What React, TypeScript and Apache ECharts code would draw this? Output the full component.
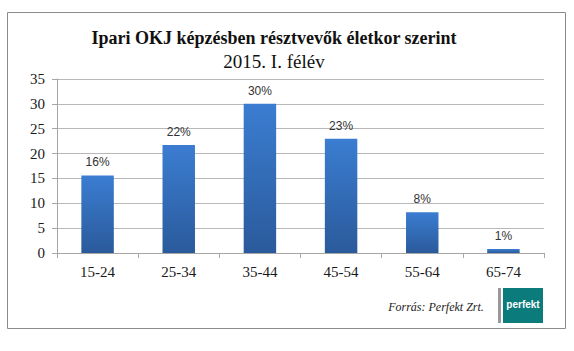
import React, { useEffect, useRef } from "react";
import * as echarts from "echarts";

const categories = ["15-24", "25-34", "35-44", "45-54", "55-64", "65-74"];
const values = [15.6, 21.7, 30, 23, 8.2, 0.8];
const percentLabels = ["16%", "22%", "30%", "23%", "8%", "1%"];
const yTicks = { min: 0, max: 35, interval: 5 };
const titleLine1 = "Ipari OKJ képzésben résztvevők életkor szerint";
const titleLine2 = "2015. I. félév";
const sourceText = "Forrás: Perfekt Zrt.";
const logoText = "perfekt";

export default function App() {
  const ref = useRef<HTMLDivElement>(null);
  useEffect(() => {
    if (!ref.current) return;
    const chart = echarts.init(ref.current, undefined, { renderer: "svg" });
    const serif = "'Liberation Serif', 'DejaVu Serif', serif";
    chart.setOption({
      animation: false,
      backgroundColor: "#ffffff",
      grid: { left: 57, right: 30, top: 79, bottom: 98 },
      xAxis: {
        type: "category",
        data: categories,
        axisLine: { show: true, lineStyle: { color: "#a6a6a6" } },
        axisTick: { show: true, length: 5, lineStyle: { color: "#a6a6a6" } },
        axisLabel: { fontFamily: serif, fontSize: 15, color: "#1a1a1a", margin: 11 },
      },
      yAxis: {
        type: "value",
        min: yTicks.min,
        max: yTicks.max,
        interval: yTicks.interval,
        axisLine: { show: true, lineStyle: { color: "#a6a6a6" } },
        axisTick: { show: true, length: 5, lineStyle: { color: "#a6a6a6" } },
        splitLine: { show: true, lineStyle: { color: "#b8b8b8" } },
        axisLabel: { fontFamily: serif, fontSize: 15, color: "#1a1a1a", margin: 12 },
      },
      series: [
        {
          type: "bar",
          data: values,
          barWidth: "40%",
          itemStyle: {
            color: new echarts.graphic.LinearGradient(0, 0, 0, 1, [
              { offset: 0, color: "#3b7dd1" },
              { offset: 1, color: "#2a5a9b" },
            ]),
          },
          label: {
            show: true,
            position: "top",
            distance: 7,
            fontFamily: "'Liberation Sans', 'DejaVu Sans', sans-serif",
            fontSize: 12,
            color: "#333333",
            formatter: (p: any) => percentLabels[p.dataIndex],
          },
        },
      ],
      graphic: [
        {
          type: "rect",
          shape: { x: 7.5, y: 12.5, width: 558, height: 316 },
          style: { fill: "none", stroke: "#8c8c8c", lineWidth: 1 },
          silent: true,
        },
        {
          type: "text",
          x: 274,
          y: 38,
          style: {
            text: titleLine1,
            font: `bold 18px ${serif}`,
            fill: "#111111",
            textAlign: "center",
            textVerticalAlign: "middle",
          },
        },
        {
          type: "text",
          x: 274,
          y: 61,
          style: {
            text: titleLine2,
            font: `19px ${serif}`,
            fill: "#111111",
            textAlign: "center",
            textVerticalAlign: "middle",
          },
        },
        {
          type: "text",
          x: 436,
          y: 307,
          style: {
            text: sourceText,
            font: `italic 12px ${serif}`,
            fill: "#222222",
            textAlign: "center",
            textVerticalAlign: "middle",
          },
        },
        {
          type: "rect",
          shape: { x: 498, y: 288, width: 3, height: 35 },
          style: { fill: "#9a9a9a" },
        },
        {
          type: "rect",
          shape: { x: 503, y: 288, width: 40, height: 35 },
          style: { fill: "#0b7b7b" },
        },
        {
          type: "text",
          x: 523,
          y: 304,
          style: {
            text: logoText,
            font: "bold 10px 'Liberation Sans', 'DejaVu Sans', sans-serif",
            fill: "#ffffff",
            textAlign: "center",
            textVerticalAlign: "middle",
          },
        },
      ],
    });
    return () => chart.dispose();
  }, []);
  return (
    <div
      ref={ref}
      style={{ position: "absolute", left: 0, top: 0, width: 574, height: 351 }}
    />
  );
}
